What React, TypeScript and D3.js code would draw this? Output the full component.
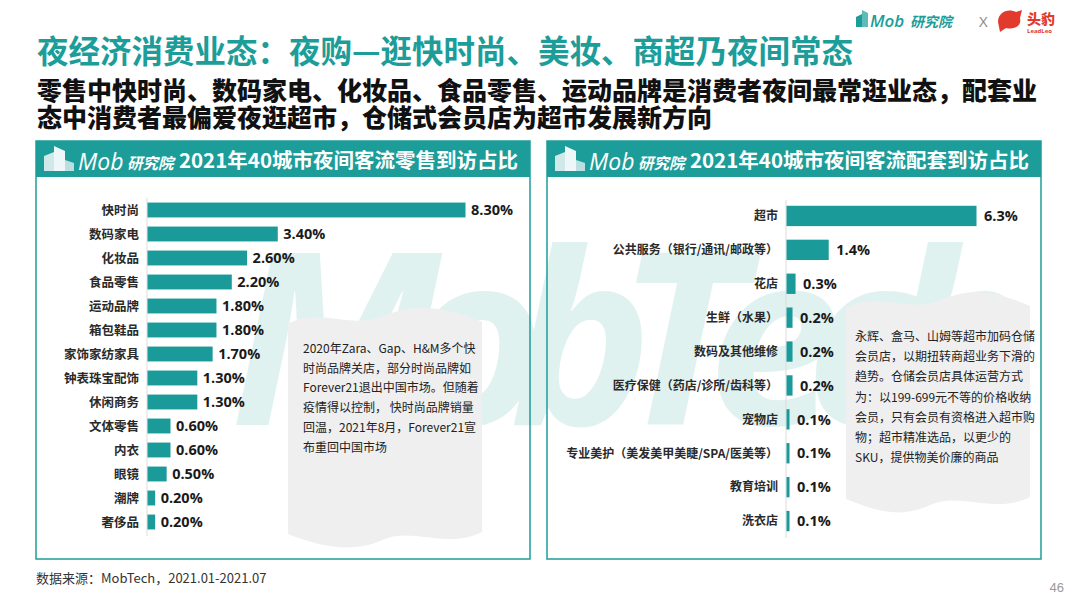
import React from "react"
import * as d3 from "d3"

const retailCats = ["快时尚", "数码家电", "化妆品", "食品零售", "运动品牌", "箱包鞋品", "家饰家纺家具", "钟表珠宝配饰", "休闲商务", "文体零售", "内衣", "眼镜", "潮牌", "奢侈品"]
const retailVals = [8.3, 3.4, 2.6, 2.2, 1.8, 1.8, 1.7, 1.3, 1.3, 0.6, 0.6, 0.5, 0.2, 0.2]

const supportCats = ["超市", "公共服务（银行/通讯/邮政等）", "花店", "生鲜（水果）", "数码及其他维修", "医疗保健（药店/诊所/齿科等）", "宠物店", "专业美护（美发美甲美睫/SPA/医美等）", "教育培训", "洗衣店"]
const supportVals = [6.3, 1.4, 0.3, 0.2, 0.2, 0.2, 0.1, 0.1, 0.1, 0.1]

const leftNote = [
  "2020年Zara、Gap、H&M多个快",
  "时尚品牌关店，部分时尚品牌如",
  "Forever21退出中国市场。但随着",
  "疫情得以控制， 快时尚品牌销量",
  "回温，2021年8月，Forever21宣",
  "布重回中国市场",
]
const rightNote = [
  "永辉、盒马、山姆等超市加码仓储",
  "会员店，以期扭转商超业务下滑的",
  "趋势。仓储会员店具体运营方式",
  "为：以199-699元不等的价格收纳",
  "会员，只有会员有资格进入超市购",
  "物；超市精准选品，以更少的",
  "SKU，提供物美价廉的商品",
]

const TEAL = "#1d9d99"
const BAR = "#1a9a98"
const FONT = "'Noto Sans CJK SC', 'Noto Sans', sans-serif"

function HeaderLogo({ x, y }: { x: number; y: number }) {
  return (
    <g transform={`translate(${x},${y})`}>
      <polygon points="0,25 0,10 10,6 10,25" fill="#cfe9ea" />
      <polygon points="10,25 10,0 21,5 21,25" fill="#eef7f7" />
      <polygon points="21,25 21,14 30,17 30,25" fill="#b9dfe0" />
      <text x={34} y={24} fontSize={23} fontStyle="italic" fontWeight={500} fill="#fff" fontFamily="'Open Sans', sans-serif">Mob</text>
      <text x={83} y={23} fontSize={15.5} fontStyle="italic" fontWeight={700} fill="#fff" fontFamily={FONT}>研究院</text>
    </g>
  )
}

function Panel({ x, w, title }: { x: number; w: number; title: string }) {
  return (
    <g>
      <rect x={x} y={141} width={w} height={418} fill="none" stroke={TEAL} strokeWidth={1.5} />
      <rect x={x} y={141} width={w} height={36} fill={TEAL} />
      <HeaderLogo x={x + 8} y={146} />
      <text x={x + w - 12} y={168} textAnchor="end" fontSize={20.5} fontWeight={700} fill="#fff" fontFamily={FONT}>{title}</text>
    </g>
  )
}

export default function App() {
  // left chart scales
  const lx = d3.scaleLinear().domain([0, 8.3]).range([147, 465])
  const ly = d3.scaleBand<string>().domain(retailCats).range([198, 534]).paddingInner(0.38).paddingOuter(0.19)
  // right chart scales
  const rx = d3.scaleLinear().domain([0, 6.3]).range([786, 976])
  const ry = d3.scaleBand<string>().domain(supportCats).range([199, 538]).paddingInner(0.4).paddingOuter(0.2)

  const wave = (x0: number, x1: number, top: number, bottom: number) =>
    `M${x0},${top + 8} C${x0 + 30},${top - 10} ${x0 + 60},${top + 14} ${x0 + 95},${top} S${x1 - 35},${top - 8} ${x1},${top + 6} L${x1},${bottom - 8} C${x1 - 35},${bottom + 10} ${x1 - 70},${bottom - 14} ${x1 - 100},${bottom} S${x0 + 30},${bottom + 6} ${x0},${bottom - 6} Z`

  return (
    <svg width={1080} height={608} style={{ display: "block", position: "absolute", left: 0, top: 0, background: "#fff" }} fontFamily={FONT}>
      <rect width={1080} height={608} fill="#fff" />

      {/* top-right logos */}
      <g>
        <polygon points="856,27 856,17 862,14 862,27" fill="#1d9d99" />
        <polygon points="862,27 862,10 868,13 868,27" fill="#5dbcb8" />
        <text x={870} y={27} fontSize={17} fontStyle="italic" fontWeight={600} fill={TEAL} fontFamily="'Open Sans', sans-serif">Mob</text>
        <text x={910} y={27} fontSize={14} fontStyle="italic" fontWeight={700} fill={TEAL}>研究院</text>
        <text x={979} y={27} fontSize={15} fill="#888" fontFamily="'Open Sans', sans-serif">X</text>
        <path d="M998,22 C998,12 1008,8 1016,12 L1022,10 L1020,18 C1022,26 1014,30 1006,28 L1000,32 Z" fill="#e23a2c" />
        <text x={1027} y={24} fontSize={14} fontWeight={900} fill="#e23a2c">头豹</text>
        <text x={1027} y={33} fontSize={6} fontWeight={700} fill="#e23a2c" fontFamily="'Open Sans', sans-serif">LeadLeo</text>
      </g>

      {/* titles */}
      <text x={37} y={63} fontSize={31.5} fontWeight={700} fill={TEAL}>夜经济消费业态：夜购—逛快时尚、美妆、商超乃夜间常态</text>
      <text x={37} y={100} fontSize={25} fontWeight={900} fill="#111">零售中快时尚、数码家电、化妆品、食品零售、运动品牌是消费者夜间最常逛业态，配套业</text>
      <text x={37} y={127} fontSize={25} fontWeight={900} fill="#111">态中消费者最偏爱夜逛超市，仓储式会员店为超市发展新方向</text>

      {/* watermark */}
      <text x={230} y={425} fontSize={240} fontWeight={700} fontStyle="italic" fill="#e0f2f0" fontFamily="'Open Sans', sans-serif" textLength={800}>MobTech</text>

      {/* annotation boxes */}
      <path d={wave(288, 482, 316, 540)} fill="#efefef" />
      <path d={wave(846, 1030, 300, 505)} fill="#efefef" />

      <Panel x={36} w={494} title="2021年40城市夜间客流零售到访占比" />
      <Panel x={547} w={494} title="2021年40城市夜间客流配套到访占比" />

      {/* left chart */}
      <line x1={lx(0)} x2={lx(0)} y1={198} y2={536} stroke="#dcdcdc" strokeWidth={1} />
      {retailCats.map((c, i) => {
        const y = ly(c) as number
        const cy = y + ly.bandwidth() / 2
        return (
          <g key={c}>
            <rect x={lx(0) + 0.5} y={y} width={lx(retailVals[i]) - lx(0)} height={ly.bandwidth()} fill={BAR} />
            <text x={lx(0) - 8} y={cy} dy="0.36em" textAnchor="end" fontSize={12.5} fontWeight={700} fill="#2a2a2a">{c}</text>
            <text x={lx(retailVals[i]) + 6} y={cy} dy="0.36em" fontSize={14.5} fontWeight={700} fill="#1a1a1a" fontFamily="'Open Sans', sans-serif">{retailVals[i].toFixed(2)}%</text>
          </g>
        )
      })}
      {leftNote.map((t, i) => (
        <text key={i} x={303} y={353 + i * 19.7} fontSize={12} fill="#222">{t}</text>
      ))}

      {/* right chart */}
      <line x1={rx(0)} x2={rx(0)} y1={200} y2={538} stroke="#dcdcdc" strokeWidth={1} />
      {supportCats.map((c, i) => {
        const y = ry(c) as number
        const cy = y + ry.bandwidth() / 2
        return (
          <g key={c}>
            <rect x={rx(0) + 0.5} y={y} width={Math.max(rx(supportVals[i]) - rx(0), 3)} height={ry.bandwidth()} fill={BAR} />
            <text x={rx(0) - 8} y={cy} dy="0.36em" textAnchor="end" fontSize={12} fontWeight={700} fill="#2a2a2a">{c}</text>
            <text x={Math.max(rx(supportVals[i]), rx(0) + 3) + 8} y={cy} dy="0.36em" fontSize={14.5} fontWeight={700} fill="#1a1a1a" fontFamily="'Open Sans', sans-serif">{supportVals[i].toFixed(1)}%</text>
          </g>
        )
      })}
      {rightNote.map((t, i) => (
        <text key={i} x={855} y={341 + i * 20.2} fontSize={12} fill="#222">{t}</text>
      ))}

      {/* footer */}
      <text x={36} y={583} fontSize={13} fill="#333" fontFamily="'Liberation Sans Narrow', 'Noto Sans CJK SC', sans-serif">数据来源：MobTech，2021.01-2021.07</text>
      <text x={1064} y={592} textAnchor="end" fontSize={13} fill="#999" fontFamily="'Liberation Sans Narrow', sans-serif">46</text>
    </svg>
  )
}
